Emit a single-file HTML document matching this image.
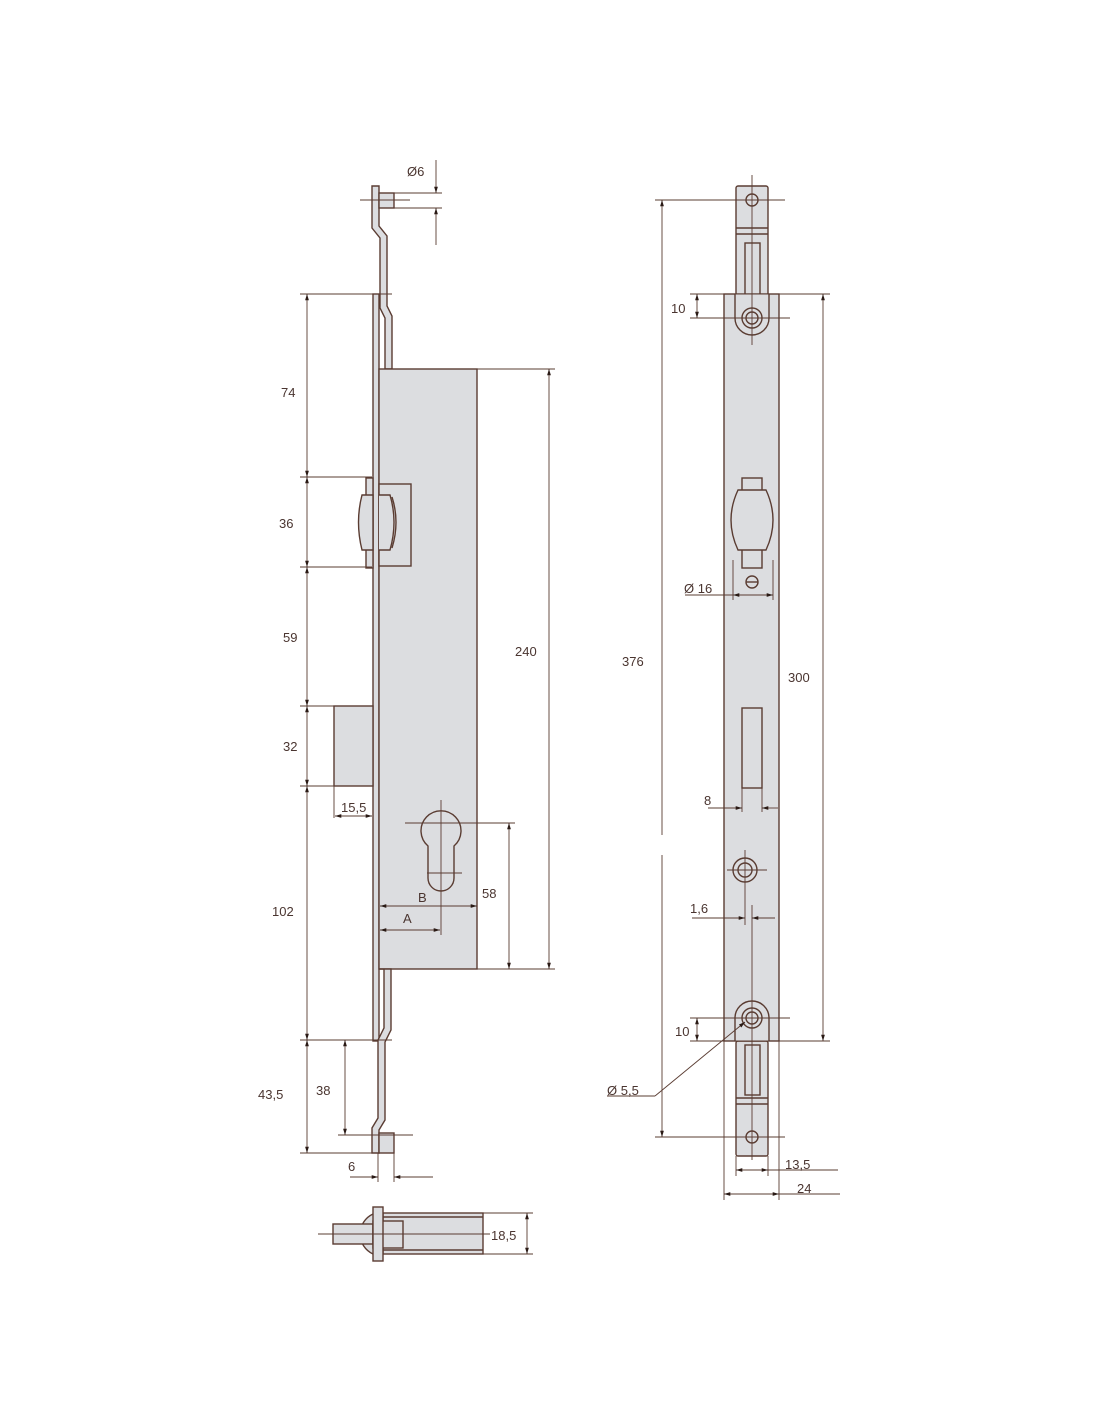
<!DOCTYPE html>
<html><head><meta charset="utf-8"><style>
html,body{margin:0;padding:0;background:#fff;}
svg{display:block;}
text{font-family:"Liberation Sans",sans-serif;font-size:13px;fill:#4a3530;}
</style></head><body>
<svg width="1100" height="1422" viewBox="0 0 1100 1422" xmlns="http://www.w3.org/2000/svg">
<defs>
<marker id="a" viewBox="0 0 10 10" refX="10" refY="5" markerWidth="7" markerHeight="7" orient="auto-start-reverse"><path d="M0,2 L10,5 L0,8 z" fill="#2a1a15"/></marker>
</defs>
<g stroke="#5a3c32" stroke-width="1.4" fill="#dcdde0">
<!-- LEFT VIEW -->
<!-- top rod -->
<path d="M372,186 L379,186 L379,226 L387,236 L387,306 L392,316 L392,369 L385,369 L385,318 L380,308 L380,238 L372,228 Z"/>
<rect x="379" y="193" width="15" height="15"/>
<!-- faceplate -->
<rect x="373" y="294" width="6" height="747"/>
<!-- body -->
<rect x="379" y="369" width="98" height="600"/>
<!-- latch -->
<rect x="366" y="478" width="7" height="90"/>
<rect x="379" y="484" width="32" height="82"/>
<path d="M373,495 L362,495 Q355,522 362,550 L373,550 Z"/>
<path d="M379,495 L390,495 Q398,522 390,550 L379,550"/>
<path d="M392,497 Q400,522 392,548" fill="none"/>
<!-- deadbolt -->
<rect x="334" y="706" width="39" height="80"/>
<!-- keyhole -->
<path d="M428,846 A20,20 0 1 1 454,846 L454,878 A13,13 0 0 1 428,878 Z"/>
<!-- lower rod -->
<path d="M379,969 L391,969 L391,1030 L385,1042 L385,1120 L379,1130 L379,1153 L372,1153 L372,1128 L378,1118 L378,1040 L384,1028 L384,969 Z"/>
<rect x="379" y="1133" width="15" height="20"/>
<!-- bottom view -->
<rect x="383" y="1213" width="100" height="41"/>
<line x1="383" y1="1217" x2="483" y2="1217"/>
<line x1="383" y1="1250" x2="483" y2="1250"/>
<path d="M373,1214 A22,22 0 0 0 373,1254"/>
<rect x="333" y="1224" width="40" height="20"/>
<rect x="373" y="1221" width="30" height="27"/>
<rect x="373" y="1207" width="10" height="54"/>
<!-- RIGHT VIEW -->
<rect x="736" y="186" width="32" height="110" rx="2"/>
<line x1="736" y1="228" x2="768" y2="228"/>
<line x1="736" y1="234" x2="768" y2="234"/>
<rect x="745" y="243" width="15" height="52"/>
<circle cx="752" cy="200" r="6"/>
<rect x="736" y="1041" width="32" height="115" rx="2"/>
<rect x="745" y="1045" width="15" height="50"/>
<line x1="736" y1="1098" x2="768" y2="1098"/>
<line x1="736" y1="1104" x2="768" y2="1104"/>
<circle cx="752" cy="1137" r="6"/>
<rect x="724" y="294" width="55" height="747"/>
<path d="M735,294 L735,318 A17,17 0 0 0 769,318 L769,294"/>
<circle cx="752" cy="318" r="10"/><circle cx="752" cy="318" r="6"/>
<path d="M735,1041 L735,1018 A17,17 0 0 1 769,1018 L769,1041"/>
<circle cx="752" cy="1018" r="10"/><circle cx="752" cy="1018" r="6"/>
<rect x="742" y="478" width="20" height="90"/>
<path d="M738,490 L766,490 Q780,520 766,550 L738,550 Q724,520 738,490 Z"/>
<circle cx="752" cy="582" r="6"/>
<line x1="746" y1="582" x2="758" y2="582"/>
<rect x="742" y="708" width="20" height="80"/>
<circle cx="745" cy="870" r="12"/><circle cx="745" cy="870" r="7"/>
</g>
<g stroke="#5a3c32" stroke-width="0.9" fill="none">
<!-- left dims -->
<line x1="300" y1="294" x2="372" y2="294"/>
<line x1="300" y1="477" x2="372" y2="477"/>
<line x1="300" y1="567" x2="372" y2="567"/>
<line x1="300" y1="706" x2="334" y2="706"/>
<line x1="300" y1="786" x2="334" y2="786"/>
<line x1="300" y1="1040" x2="392" y2="1040"/>
<line x1="300" y1="1153" x2="372" y2="1153"/>
<line x1="338" y1="1135" x2="413" y2="1135"/>
<line x1="307" y1="294" x2="307" y2="477" marker-start="url(#a)" marker-end="url(#a)"/>
<line x1="307" y1="477" x2="307" y2="567" marker-start="url(#a)" marker-end="url(#a)"/>
<line x1="307" y1="567" x2="307" y2="706" marker-start="url(#a)" marker-end="url(#a)"/>
<line x1="307" y1="706" x2="307" y2="786" marker-start="url(#a)" marker-end="url(#a)"/>
<line x1="307" y1="786" x2="307" y2="1040" marker-start="url(#a)" marker-end="url(#a)"/>
<line x1="307" y1="1040" x2="307" y2="1153" marker-start="url(#a)" marker-end="url(#a)"/>
<line x1="345" y1="1040" x2="345" y2="1135" marker-start="url(#a)" marker-end="url(#a)"/>
<line x1="477" y1="369" x2="555" y2="369"/>
<line x1="477" y1="969" x2="555" y2="969"/>
<line x1="549" y1="369" x2="549" y2="969" marker-start="url(#a)" marker-end="url(#a)"/>
<line x1="405" y1="823" x2="515" y2="823"/>
<line x1="509" y1="823" x2="509" y2="969" marker-start="url(#a)" marker-end="url(#a)"/>
<line x1="441" y1="800" x2="441" y2="935"/>
<line x1="427" y1="873" x2="462" y2="873"/>
<line x1="380" y1="906" x2="477" y2="906" marker-start="url(#a)" marker-end="url(#a)"/>
<line x1="380" y1="930" x2="440" y2="930" marker-start="url(#a)" marker-end="url(#a)"/>
<line x1="334" y1="786" x2="334" y2="818"/>
<line x1="335" y1="816" x2="372" y2="816" marker-start="url(#a)" marker-end="url(#a)"/>
<line x1="360" y1="200" x2="410" y2="200"/>
<line x1="394" y1="193" x2="442" y2="193"/>
<line x1="394" y1="208" x2="442" y2="208"/>
<line x1="436" y1="160" x2="436" y2="193" marker-end="url(#a)"/>
<line x1="436" y1="245" x2="436" y2="208" marker-end="url(#a)"/>
<line x1="372" y1="294" x2="392" y2="294"/>
<line x1="378" y1="1153" x2="378" y2="1182"/>
<line x1="394" y1="1153" x2="394" y2="1182"/>
<line x1="350" y1="1177" x2="378" y2="1177" marker-end="url(#a)"/>
<line x1="433" y1="1177" x2="394" y2="1177" marker-end="url(#a)"/>
<line x1="318" y1="1234" x2="490" y2="1234"/>
<line x1="483" y1="1213" x2="533" y2="1213"/>
<line x1="483" y1="1254" x2="533" y2="1254"/>
<line x1="527" y1="1213" x2="527" y2="1254" marker-start="url(#a)" marker-end="url(#a)"/>
<!-- right dims -->
<line x1="752" y1="175" x2="752" y2="300"/>
<line x1="655" y1="200" x2="785" y2="200"/>
<line x1="752" y1="300" x2="752" y2="345"/>
<line x1="690" y1="294" x2="830" y2="294"/>
<line x1="690" y1="318" x2="790" y2="318"/>
<line x1="697" y1="294" x2="697" y2="318" marker-start="url(#a)" marker-end="url(#a)"/>
<line x1="662" y1="200" x2="662" y2="835" marker-start="url(#a)"/>
<line x1="662" y1="855" x2="662" y2="1137" marker-end="url(#a)"/>
<line x1="655" y1="1137" x2="785" y2="1137"/>
<line x1="823" y1="294" x2="823" y2="1041" marker-start="url(#a)" marker-end="url(#a)"/>
<line x1="690" y1="1041" x2="830" y2="1041"/>
<line x1="690" y1="1018" x2="790" y2="1018"/>
<line x1="697" y1="1018" x2="697" y2="1041" marker-start="url(#a)" marker-end="url(#a)"/>
<line x1="733" y1="560" x2="733" y2="600"/>
<line x1="773" y1="560" x2="773" y2="600"/>
<line x1="685" y1="595" x2="773" y2="595"/>
<line x1="733" y1="595" x2="773" y2="595" marker-start="url(#a)" marker-end="url(#a)"/>
<line x1="742" y1="788" x2="742" y2="812"/>
<line x1="762" y1="788" x2="762" y2="812"/>
<line x1="708" y1="808" x2="742" y2="808" marker-end="url(#a)"/>
<line x1="778" y1="808" x2="762" y2="808" marker-end="url(#a)"/>
<line x1="745" y1="850" x2="745" y2="925"/>
<line x1="727" y1="870" x2="767" y2="870"/>
<line x1="752" y1="905" x2="752" y2="1160"/>
<line x1="692" y1="918" x2="745" y2="918" marker-end="url(#a)"/>
<line x1="775" y1="918" x2="752" y2="918" marker-end="url(#a)"/>
<line x1="607" y1="1096" x2="655" y2="1096"/>
<line x1="655" y1="1096" x2="745" y2="1022" marker-end="url(#a)"/>
<line x1="736" y1="1156" x2="736" y2="1176"/>
<line x1="768" y1="1156" x2="768" y2="1176"/>
<line x1="724" y1="1041" x2="724" y2="1200"/>
<line x1="779" y1="1041" x2="779" y2="1200"/>
<line x1="736" y1="1170" x2="768" y2="1170" marker-start="url(#a)" marker-end="url(#a)"/>
<line x1="768" y1="1170" x2="838" y2="1170"/>
<line x1="724" y1="1194" x2="779" y2="1194" marker-start="url(#a)" marker-end="url(#a)"/>
<line x1="779" y1="1194" x2="840" y2="1194"/>
</g>
<g>
<text x="407" y="176">Ø6</text>
<text x="281" y="397">74</text>
<text x="279" y="528">36</text>
<text x="283" y="642">59</text>
<text x="283" y="751">32</text>
<text x="272" y="916">102</text>
<text x="258" y="1099">43,5</text>
<text x="316" y="1095">38</text>
<text x="341" y="812">15,5</text>
<text x="515" y="656">240</text>
<text x="482" y="898">58</text>
<text x="418" y="902">B</text>
<text x="403" y="923">A</text>
<text x="348" y="1171">6</text>
<text x="491" y="1240">18,5</text>
<text x="671" y="313">10</text>
<text x="622" y="666">376</text>
<text x="788" y="682">300</text>
<text x="684" y="593">Ø 16</text>
<text x="704" y="805">8</text>
<text x="690" y="913">1,6</text>
<text x="675" y="1036">10</text>
<text x="607" y="1095">Ø 5,5</text>
<text x="785" y="1169">13,5</text>
<text x="797" y="1193">24</text>
</g>
</svg>
</body></html>
